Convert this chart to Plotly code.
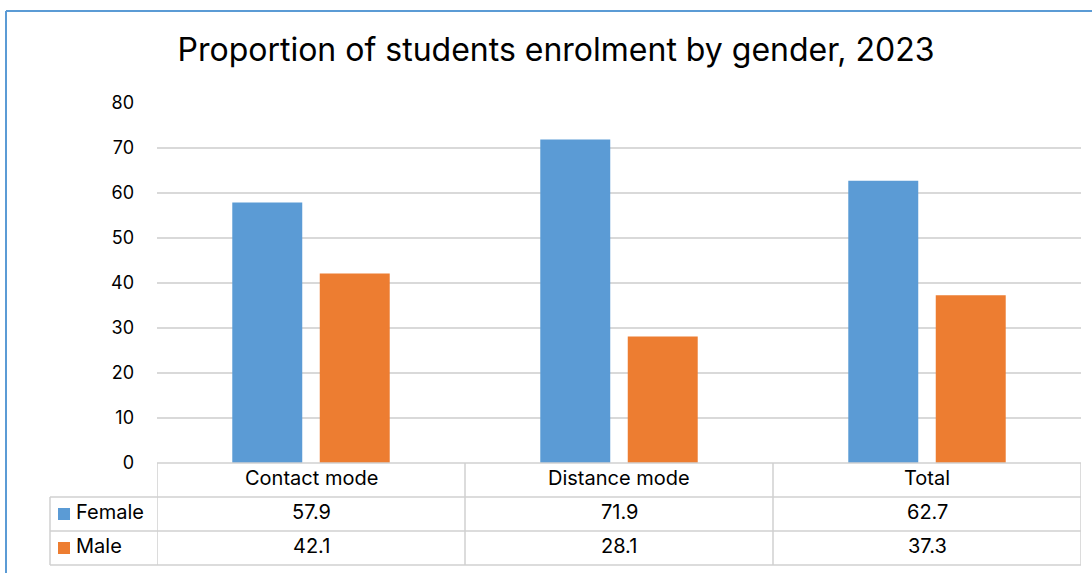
import plotly.graph_objects as go

categories = ["Contact mode", "Distance mode", "Total"]
female = [57.9, 71.9, 62.7]
male = [42.1, 28.1, 37.3]
series_names = ["Female", "Male"]
colors = ["#5B9BD5", "#ED7D31"]
title = "Proportion of students enrolment by gender, 2023"

W, H = 1092, 573
L, R, T, B = 157, 11, 103, 110
pw, ph = W - L - R, H - T - B
FONT = "Inter"
grid = "#D9D9D9"
TS = 20

fig = go.Figure()
for name, vals, c in zip(series_names, [female, male], colors):
    fig.add_trace(go.Bar(x=categories, y=vals, name=name, marker=dict(color=c, line=dict(width=0))))

def py(pix):  # pixel y -> paper y
    return (H - B - pix) / ph

def px(pix):
    return (pix - L) / pw

row_h = 34
rows_y = [463, 463 + row_h, 463 + 2 * row_h, 463 + 3 * row_h]
left_x = 50
shapes = []
line = dict(color="#D0D0D0", width=1.5)
shapes.append(dict(type="line", xref="paper", yref="paper", x0=0, x1=1, y0=py(rows_y[0]), y1=py(rows_y[0]), line=line))
for yy in rows_y[1:]:
    shapes.append(dict(type="line", xref="paper", yref="paper", x0=px(left_x), x1=1, y0=py(yy), y1=py(yy), line=line))
n = len(categories)
for i in range(n + 1):
    shapes.append(dict(type="line", xref="x", yref="paper", x0=i - 0.5, x1=i - 0.5, y0=py(rows_y[0]), y1=py(rows_y[-1]), line=line))
shapes.append(dict(type="line", xref="paper", yref="paper", x0=px(left_x), x1=px(left_x), y0=py(rows_y[1]), y1=py(rows_y[-1]), line=line))
for k, c in enumerate(colors):
    cy = (rows_y[k + 1] + rows_y[k + 2]) / 2
    shapes.append(dict(type="rect", xref="paper", yref="paper", x0=px(58), x1=px(70), y0=py(cy + 6), y1=py(cy - 6),
                       fillcolor=c, line=dict(width=0)))
border = dict(color="#5B9BD5", width=2)
shapes.append(dict(type="line", xref="paper", yref="paper", x0=px(6), x1=px(W + 2), y0=py(11), y1=py(11), line=border))
shapes.append(dict(type="line", xref="paper", yref="paper", x0=px(6), x1=px(6), y0=py(11), y1=py(H + 2), line=border))

annotations = []
for i, cat in enumerate(categories):
    annotations.append(dict(x=i, xref="x", y=py((rows_y[0] + rows_y[1]) / 2 - 2), yref="paper", text=cat, showarrow=False,
                            font=dict(size=TS, color="#000000", family=FONT), xanchor="center", yanchor="middle"))
for k, (name, vals) in enumerate(zip(series_names, [female, male])):
    cy = (rows_y[k + 1] + rows_y[k + 2]) / 2 - 2
    annotations.append(dict(x=px(74), xref="paper", y=py(cy), yref="paper", text=name, showarrow=False,
                            font=dict(size=TS, color="#000000", family=FONT), xanchor="left", yanchor="middle"))
    for i, v in enumerate(vals):
        annotations.append(dict(x=i, xref="x", y=py(cy), yref="paper", text=f"{v:.1f}", showarrow=False,
                                font=dict(size=TS, color="#000000", family=FONT), xanchor="center", yanchor="middle"))

fig.update_layout(
    width=W, height=H,
    margin=dict(l=L, r=R, t=T, b=B, autoexpand=False),
    paper_bgcolor="white", plot_bgcolor="white",
    title=dict(text=title, x=556 / W, xanchor="center", y=1 - 50 / H, yanchor="middle",
               font=dict(size=32, color="#000000", family=FONT)),
    barmode="group", bargap=0.432, bargroupgap=0.2,
    showlegend=False,
    xaxis=dict(showticklabels=False, showgrid=False, zeroline=False, showline=False, ticks="",
               range=[-0.5, n - 0.5]),
    yaxis=dict(range=[0, 80], dtick=10, showgrid=True, gridcolor=grid, gridwidth=1.5, zeroline=False,
               showline=False, ticks="", ticklabelstandoff=22,
               tickfont=dict(size=18, color="#000000", family=FONT)),
    shapes=shapes, annotations=annotations,
)
fig.write_html("out.html")
